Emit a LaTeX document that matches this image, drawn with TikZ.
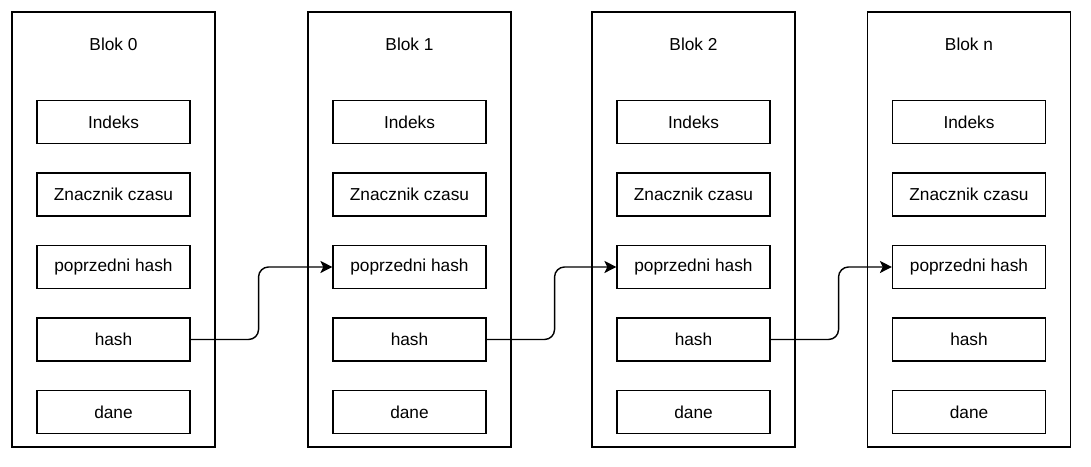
\documentclass[tikz,border=0pt]{standalone}
\usepackage{fontspec}
\setmainfont{Liberation Sans}
\usetikzlibrary{arrows.meta}

\begin{document}
\begin{tikzpicture}[every node/.style={align=center, font=\fontsize{12.3}{14}\selectfont},
block/.style={draw, line width=0.8pt, minimum width=5.075cm, minimum height=10.875cm, inner sep=0pt},
field/.style={draw, line width=0.8pt, minimum width=3.825cm, minimum height=1.075cm, inner sep=0pt},
link/.style={line width=1pt, rounded corners=0.25cm, -{Stealth[length=0.3cm, width=0.3cm, inset=0.07cm]}}]
\useasboundingbox (0,0) rectangle (27.275,11.675);
%================================================================
%	Blocks
\node[block] (b0) at (2.8375,5.9375) {};
\node[block] (b1) at (10.2375,5.9375) {};
\node[block] (b2) at (17.3375,5.9375) {};
\node[block] (bn) at (24.225,5.9375) {};

%================================================================
%	Titles
\node (t0) at (2.8375,10.575) {Blok 0};
\node (t1) at (10.2375,10.575) {Blok 1};
\node (t2) at (17.3375,10.575) {Blok 2};
\node (tn) at (24.225,10.575) {Blok n};

%================================================================
%	Fields
\node[field] (i0) at (2.8375,8.625) {Indeks};
\node[field] (z0) at (2.8375,6.8125) {Znacznik czasu};
\node[field] (p0) at (2.8375,5.0) {poprzedni hash};
\node[field] (h0) at (2.8375,3.1875) {hash};
\node[field] (d0) at (2.8375,1.375) {dane};

%----------------------------------------------------------------
\node[field] (i1) at (10.2375,8.625) {Indeks};
\node[field] (z1) at (10.2375,6.8125) {Znacznik czasu};
\node[field] (p1) at (10.2375,5.0) {poprzedni hash};
\node[field] (h1) at (10.2375,3.1875) {hash};
\node[field] (d1) at (10.2375,1.375) {dane};

%----------------------------------------------------------------
\node[field] (i2) at (17.3375,8.625) {Indeks};
\node[field] (z2) at (17.3375,6.8125) {Znacznik czasu};
\node[field] (p2) at (17.3375,5.0) {poprzedni hash};
\node[field] (h2) at (17.3375,3.1875) {hash};
\node[field] (d2) at (17.3375,1.375) {dane};

%----------------------------------------------------------------
\node[field] (in) at (24.225,8.625) {Indeks};
\node[field] (zn) at (24.225,6.8125) {Znacznik czasu};
\node[field] (pn) at (24.225,5.0) {poprzedni hash};
\node[field] (hn) at (24.225,3.1875) {hash};
\node[field] (dn) at (24.225,1.375) {dane};

%================================================================
%	Lines
\draw[link] (h0.east) -- ++(1.7,0) |- (p1.west);
\draw[link] (h1.east) -- ++(1.7,0) |- (p2.west);
\draw[link] (h2.east) -- ++(1.7,0) |- (pn.west);
%================================================================
\end{tikzpicture}
\end{document}
